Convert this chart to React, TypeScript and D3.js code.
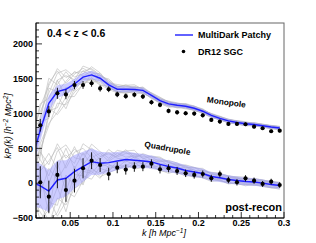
// @ts-nocheck
import * as d3 from 'd3';

const W = 316, H = 243;
const margin = { left: 36, right: 32, top: 23, bottom: 25 };

// k bin centres (mock curves start one bin before the data)
const kBins = [0.005, 0.015, 0.025, 0.035, 0.045, 0.055, 0.065, 0.075, 0.085, 0.095,
  0.105, 0.115, 0.125, 0.135, 0.145, 0.155, 0.165, 0.175, 0.185, 0.195,
  0.205, 0.215, 0.225, 0.235, 0.245, 0.255, 0.265, 0.275, 0.285, 0.295];
const kData = kBins.slice(1);

// DR12 SGC measurements
const monoData = [832, 1030, 1290, 1275, 1408, 1410, 1435, 1360, 1349, 1275, 1250, 1270, 1243, 1162, 1124,
  1037, 1018, 1004, 999, 975, 908, 884, 851, 851, 846, 812, 789, 746, 754];
const monoErr = [90, 80, 80, 70, 60, 55, 50, 45, 42, 40, 38, 36, 35, 34, 33, 32, 31, 30, 30, 29, 28, 28, 27, 27, 26, 26, 25, 25, 25];
const quadData = [13, -194, 118, -98, 36, 214, 323, 261, 132, 223, 195, 232, 237, 280, 200, 214, 175, 142, 118,
  132, 70, 132, 46, 13, 70, 36, -11, 22, -26];
const quadErr = [230, 230, 190, 170, 170, 145, 120, 100, 90, 80, 72, 68, 65, 62, 60, 58, 56, 54, 52, 50, 50, 48, 47, 46, 45, 44, 43, 42, 42];

// MultiDark Patchy mean and 1-sigma band
const monoMean = [330, 760, 1148, 1315, 1349, 1425, 1522, 1555, 1507, 1411, 1349, 1349, 1346, 1332, 1260,
  1185, 1138, 1119, 1105, 1076, 1033, 973, 930, 894, 872, 853, 843, 825, 807, 793];
const monoSig = [200, 150, 110, 90, 80, 70, 65, 60, 55, 50, 45, 42, 40, 38, 36, 35, 34, 33, 32, 31, 30, 30, 29, 28, 28, 27, 27, 26, 26, 25];
const monoSpread = [450, 380, 360, 330, 280, 200, 160, 130, 110, 95, 85, 80, 75, 70, 65, 62, 60, 57, 55, 52, 50, 48, 46, 45, 44, 43, 42, 41, 40, 40];
const quadMean = [20, -40, -112, 46, 70, 165, 237, 309, 286, 295, 319, 340, 329, 319, 305, 269, 240, 218, 182,
  161, 139, 96, 78, 53, 39, 24, 17, 0, -19, -33];
const quadSig = [340, 320, 300, 280, 260, 240, 215, 190, 165, 145, 130, 118, 108, 100, 94, 88, 84, 80, 76, 72, 68, 65, 62, 60, 58, 56, 54, 52, 50, 48];
const quadSpread = [560, 540, 540, 520, 480, 400, 330, 280, 240, 210, 190, 175, 160, 150, 140, 132, 125, 120, 115, 110, 105, 100, 96, 92, 90, 88, 86, 84, 82, 80];

// individual mock deviations, in units of the spread above
const mocks = [
  [0.5, 0.9, 0.7, 1.0, 0.6, 0.8, 0.5, 0.7, 0.4, 0.6, 0.3, 0.5, 0.6, 0.4, 0.5, 0.7, 0.4, 0.5, 0.3, 0.6, 0.5, 0.4, 0.6, 0.3, 0.5, 0.4, 0.6, 0.5, 0.3, 0.4],
  [-0.4, -0.7, -0.9, -0.5, -0.8, -0.6, -0.7, -0.4, -0.6, -0.5, -0.3, -0.6, -0.5, -0.4, -0.7, -0.5, -0.3, -0.6, -0.4, -0.5, -0.6, -0.3, -0.5, -0.4, -0.6, -0.5, -0.3, -0.5, -0.6, -0.4],
  [0.2, 0.5, 1.0, 0.3, 0.9, 0.1, 0.6, -0.2, 0.4, 0.7, 0.2, 0.0, 0.5, 0.3, -0.1, 0.4, 0.6, 0.2, 0.1, 0.3, -0.2, 0.2, 0.4, 0.0, 0.3, 0.1, -0.1, 0.2, 0.3, 0.1],
  [-0.8, -1.0, -0.3, -0.7, 0.1, -0.5, -0.2, -0.6, 0.0, -0.3, -0.5, -0.1, -0.4, 0.1, -0.2, -0.4, -0.1, 0.0, -0.3, -0.2, 0.1, -0.3, -0.1, -0.2, 0.0, -0.3, -0.2, 0.0, -0.1, -0.2],
  [0.9, 0.4, 0.8, 0.9, 0.3, 0.7, 0.8, 0.2, 0.6, 0.1, 0.4, 0.8, 0.3, 0.6, 0.2, 0.5, 0.1, 0.4, 0.6, 0.2, 0.4, 0.5, 0.1, 0.4, 0.3, 0.5, 0.2, 0.4, 0.5, 0.6],
  [-0.2, 0.3, -0.6, 0.5, -0.4, 0.2, -0.8, 0.1, -0.3, -0.6, 0.0, -0.2, 0.3, -0.4, 0.1, -0.2, -0.5, 0.2, -0.1, -0.3, 0.0, -0.4, -0.2, 0.1, -0.3, -0.1, 0.2, -0.2, -0.4, -0.3],
  [1.0, 0.7, 0.4, 0.8, 1.0, 0.5, 0.3, 0.9, 0.7, 0.3, 0.8, 0.6, 0.2, 0.7, 0.5, 0.3, 0.7, 0.6, 0.4, 0.5, 0.7, 0.3, 0.5, 0.6, 0.4, 0.2, 0.5, 0.6, 0.4, 0.5],
  [-1.0, -0.5, -0.8, -0.9, -0.4, -0.9, -0.6, -0.3, -0.8, -0.7, -0.6, -0.4, -0.8, -0.6, -0.4, -0.7, -0.6, -0.5, -0.7, -0.4, -0.6, -0.7, -0.4, -0.6, -0.5, -0.7, -0.4, -0.6, -0.5, -0.7],
  [0.3, -0.2, 0.6, 0.0, 0.4, 0.9, 0.1, 0.4, -0.1, 0.2, 0.6, 0.2, 0.4, -0.1, 0.3, 0.1, 0.2, -0.2, 0.5, 0.0, 0.2, 0.1, -0.2, 0.2, 0.4, 0.0, 0.1, 0.3, 0.0, 0.2],
  [-0.6, 0.1, -0.2, -1.0, -0.7, -0.1, -0.4, -0.9, -0.2, -0.1, -0.7, -0.5, -0.1, -0.3, -0.6, -0.1, -0.3, -0.7, -0.2, -0.6, -0.3, -0.1, -0.4, -0.5, -0.2, -0.4, -0.6, -0.3, -0.1, -0.5],
  [0.7, 1.0, 0.2, 0.5, 0.7, 0.3, 1.0, 0.6, 0.2, 0.9, 0.4, 0.7, 0.9, 0.2, 0.6, 0.8, 0.5, 0.3, 0.7, 0.6, 0.2, 0.6, 0.7, 0.5, 0.6, 0.7, 0.3, 0.4, 0.6, 0.4],
  [-0.3, -0.9, -0.5, -0.2, -1.0, -0.3, -0.1, -0.5, -0.9, -0.2, -0.4, -0.8, -0.2, -0.7, -0.3, -0.6, -0.8, -0.3, -0.5, -0.7, -0.4, -0.5, -0.3, -0.7, -0.4, -0.5, -0.3, -0.2, -0.6, -0.4],
];

const xTicks = [0.05, 0.1, 0.15, 0.2, 0.25, 0.3];
const yTicks = [-500, 0, 500, 1000, 1500, 2000];

const FONT = 'Liberation Sans, Arial, Helvetica, sans-serif';
const BLUE = '#1f1fff';

export default function App() {
  const x = d3.scaleLinear().domain([0.01, 0.3]).range([margin.left, W - margin.right]);
  const y = d3.scaleLinear().domain([-500, 2300]).range([H - margin.bottom, margin.top]);

  const line = d3.line<number>().x((_, i) => x(kBins[i])).y(d => y(d));
  const band = (mean, sig) => d3.area<number>()
    .x((_, i) => x(kBins[i]))
    .y0((d, i) => y(d - sig[i]))
    .y1((d, i) => y(d + sig[i]))(mean);

  const xMinor = d3.range(1, 31).map(i => i / 100);
  const yMinor = d3.range(-500, 2301, 100);
  const x0 = margin.left, x1 = W - margin.right, y0 = H - margin.bottom, y1 = margin.top;

  const mockPaths = (mean, spread, order) => order.map((m, j) => (
    <path key={j} d={line(mean.map((v, i) => v + m[i] * spread[i]))}
      fill="none" stroke="#b8b8b8" strokeWidth={0.6} />
  ));

  const points = (vals, errs) => vals.map((v, i) => (
    <g key={i}>
      <line x1={x(kData[i])} x2={x(kData[i])} y1={y(v - errs[i])} y2={y(v + errs[i])} stroke="#000" strokeWidth={0.9} />
      <circle cx={x(kData[i])} cy={y(v)} r={2.1} fill="#000" />
    </g>
  ));

  return (
    <svg width={W} height={H} style={{ position: 'absolute', left: 0, top: 0, background: '#fff' }} fontFamily={FONT}>
      <defs>
        <clipPath id="plot"><rect x={x0} y={y1} width={x1 - x0} height={y0 - y1} /></clipPath>
      </defs>
      <g clipPath="url(#plot)">
        {mockPaths(monoMean, monoSpread, mocks)}
        {mockPaths(quadMean, quadSpread, mocks.slice().reverse())}
        <path d={band(monoMean, monoSig)} fill="#9a9aff" fillOpacity={0.5} />
        <path d={band(quadMean, quadSig)} fill="#9a9aff" fillOpacity={0.5} />
        <path d={line(monoMean)} fill="none" stroke={BLUE} strokeWidth={1.4} />
        <path d={line(quadMean)} fill="none" stroke={BLUE} strokeWidth={1.4} />
        {points(monoData, monoErr)}
        {points(quadData, quadErr)}
      </g>

      {/* frame */}
      <rect x={x0} y={y1} width={x1 - x0} height={y0 - y1} fill="none" stroke="#666" strokeWidth={1} />
      <line x1={x0} x2={x0} y1={y1} y2={y0} stroke="#000" />
      <line x1={x0} x2={x1} y1={y0} y2={y0} stroke="#000" />

      {/* ticks */}
      {xMinor.map(t => (
        <line key={'xm' + t} x1={x(t)} x2={x(t)} y1={y0} y2={y0 - (xTicks.some(v => Math.abs(v - t) < 1e-6) ? 6 : 3)} stroke="#000" strokeWidth={0.8} />
      ))}
      {yMinor.map(t => (
        <line key={'ym' + t} x1={x0} x2={x0 + (t % 500 === 0 ? 6 : 3)} y1={y(t)} y2={y(t)} stroke="#000" strokeWidth={0.8} />
      ))}
      {xTicks.map(t => (
        <text key={'xt' + t} x={x(t)} y={y0 + 8} fontSize={9} fontWeight="bold" textAnchor="middle">{String(t)}</text>
      ))}
      {yTicks.map(t => (
        <text key={'yt' + t} x={x0 - 3} y={y(t) + 3.2} fontSize={9} fontWeight="bold" textAnchor="end">{t < 0 ? '\u2212' + Math.abs(t) : String(t)}</text>
      ))}

      {/* axis titles */}
      <text x={186} y={236} fontSize={9} fontStyle="italic" textAnchor="end">
        k  [h Mpc<tspan dy={-3} fontSize={6.5}>{'\u22121'}</tspan><tspan dy={3}>]</tspan>
      </text>
      <text transform="translate(11,126) rotate(-90)" fontSize={9} fontStyle="italic" textAnchor="middle">
        kP<tspan dy={2} fontSize={6.5}>l</tspan><tspan dy={-2}>(k)  [h</tspan>
        <tspan dy={-3} fontSize={6.5}>{'\u22122'}</tspan><tspan dy={3}> Mpc</tspan>
        <tspan dy={-3} fontSize={6.5}>2</tspan><tspan dy={3}>]</tspan>
      </text>

      {/* annotations */}
      <text x={47} y={37} fontSize={10.5} fontWeight="bold">0.4 &lt; z &lt; 0.6</text>
      <line x1={175} x2={193} y1={35} y2={35} stroke={BLUE} strokeWidth={1.4} />
      <text x={198} y={38} fontSize={9} fontWeight="bold">MultiDark Patchy</text>
      <circle cx={183.5} cy={51.5} r={1.8} fill="#000" />
      <text x={198} y={55} fontSize={9} fontWeight="bold">DR12 SGC</text>
      <text transform="translate(226,105) rotate(8)" fontSize={8.3} fontWeight="bold" textAnchor="middle">Monopole</text>
      <text transform="translate(167,151) rotate(10)" fontSize={8.3} fontWeight="bold" textAnchor="middle">Quadrupole</text>
      <text x={282} y={211} fontSize={11} fontWeight="bold" textAnchor="end">post-recon</text>
    </svg>
  );
}
